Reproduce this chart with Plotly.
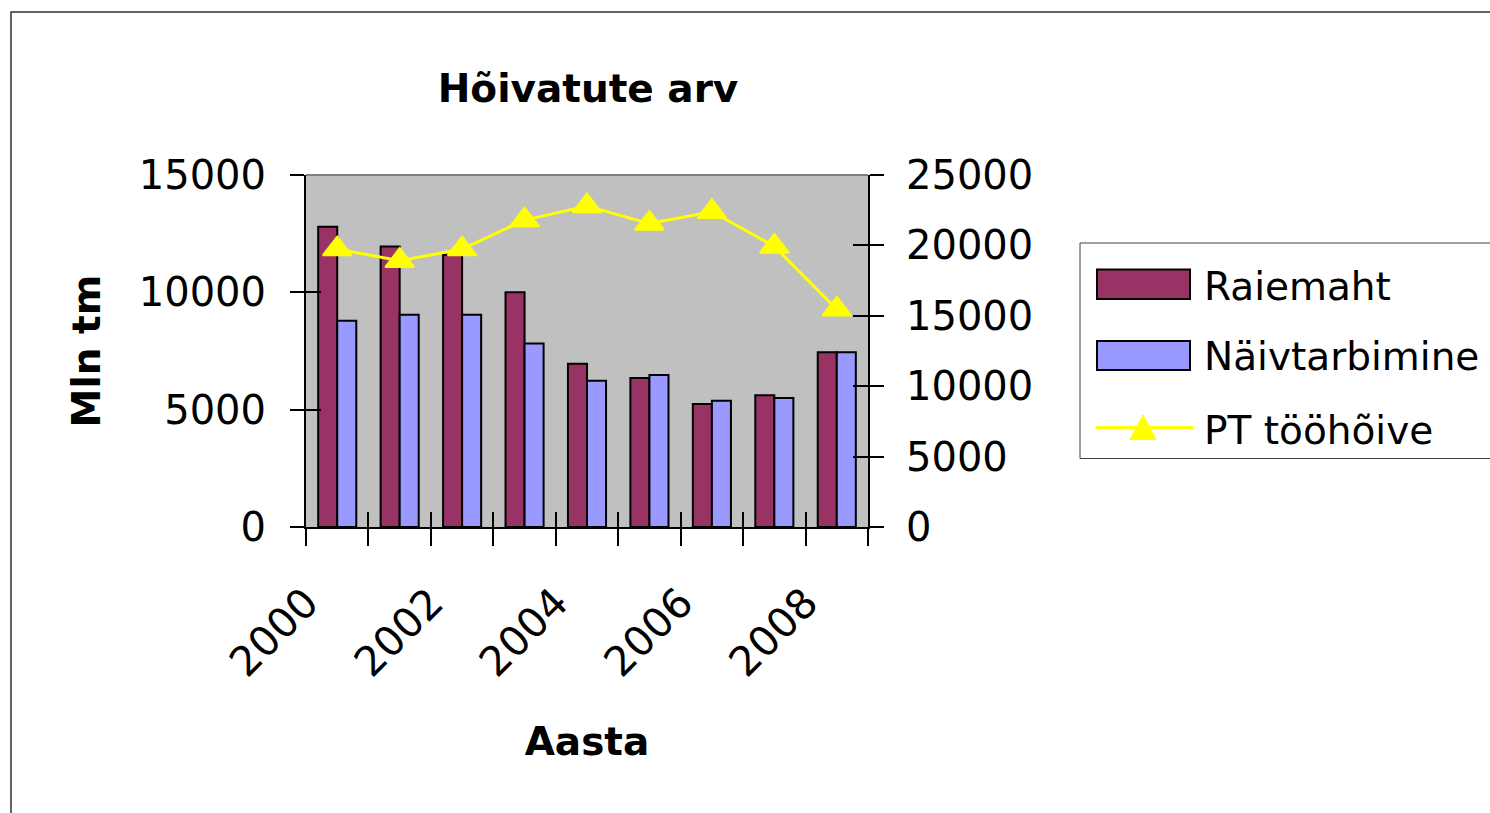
import plotly.graph_objects as go

# ---- data ----
years = [2000, 2001, 2002, 2003, 2004, 2005, 2006, 2007, 2008]
raiemaht = [12800, 11950, 11600, 10000, 6960, 6350, 5240, 5610, 7450]
naivtarbimine = [8790, 9040, 9040, 7820, 6230, 6475, 5380, 5500, 7450]
pt_toohoive = [19740, 18910, 19740, 21800, 22790, 21550, 22390, 19930, 15460]
tick_labels = [str(y) if i % 2 == 0 else "" for i, y in enumerate(years)]
series_names = ["Raiemaht", "Näivtarbimine", "PT tööhõive"]

# ---- style ----
FONT = "DejaVu Sans"
C_R = "#993366"
C_N = "#9999FF"
C_PT = "#FFFF00"
OFF = 0                      # body margin removed by post_script
W, H = 1490, 813
ML, MR, MT, MB = 306, 622, 175, 286
PW, PH = W - ML - MR, H - MT - MB

def px(x):  # screen pixel -> paper
    return (x - OFF - ML) / PW

def py(y):
    return (H - MB - (y - OFF)) / PH

cats = [str(y) for y in years]

fig = go.Figure()
fig.add_trace(go.Bar(x=cats, y=raiemaht, name=series_names[0],
                     marker=dict(color=C_R, line=dict(color="black", width=2)),
                     showlegend=False))
fig.add_trace(go.Bar(x=cats, y=naivtarbimine, name=series_names[1],
                     marker=dict(color=C_N, line=dict(color="black", width=2)),
                     showlegend=False))
fig.add_trace(go.Scatter(x=cats, y=pt_toohoive, name=series_names[2], yaxis="y2",
                         mode="lines+markers",
                         line=dict(color=C_PT, width=3),
                         marker=dict(symbol="triangle-up", size=25, color=C_PT,
                                     line=dict(color=C_PT, width=2)),
                         showlegend=False))
# empty helper traces so the overlay axes (inner halves of cross ticks) get drawn
fig.add_trace(go.Scatter(x=[], y=[], xaxis="x2", yaxis="y3", showlegend=False, hoverinfo="skip"))
fig.add_trace(go.Scatter(x=[], y=[], xaxis="x2", yaxis="y4", showlegend=False, hoverinfo="skip"))

axis_font = dict(family=FONT, size=40, color="black")

fig.update_layout(
    template="none",
    width=W, height=H,
    margin=dict(l=ML, r=MR, t=MT, b=MB, pad=0, autoexpand=False),
    paper_bgcolor="white",
    plot_bgcolor="#C0C0C0",
    barmode="group", bargap=0.39, bargroupgap=0,
    showlegend=False,
    title=dict(text="<b>Hõivatute arv</b>", font=dict(family=FONT, size=39, color="black"),
               x=px(588), xref="paper", xanchor="center",
               y=1 - (88 - OFF) / H, yref="container", yanchor="middle"),
    xaxis=dict(type="category", categoryorder="array", categoryarray=cats,
               range=[-0.5, len(cats) - 0.5],
               tickvals=cats, ticktext=tick_labels, tickangle=-45,
               ticklabelshift=-31, ticklabelstandoff=33,
               tickson="boundaries", ticks="outside", ticklen=17, tickwidth=1.5,
               tickcolor="black", tickfont=dict(family=FONT, size=41, color="black"),
               showline=True, linecolor="black", linewidth=2,
               showgrid=False, zeroline=False, automargin=False,
               title=dict(text="<b>Aasta</b>", font=dict(family=FONT, size=39, color="black"),
                          standoff=43)),
    yaxis=dict(range=[0, 15000], dtick=5000, tick0=0, tickformat="d",
               ticks="outside", ticklen=14,
               tickwidth=1.5, tickcolor="black", tickfont=axis_font,
               ticklabelstandoff=16,
               showline=True, linecolor="black", linewidth=2,
               showgrid=False, zeroline=False, automargin=False,
               title=dict(text="<b>Mln tm</b>", font=dict(family=FONT, size=39, color="black"),
                          standoff=26)),
    yaxis2=dict(range=[0, 25000], dtick=5000, tick0=0, tickformat="d",
                overlaying="y", side="right",
                ticks="outside", ticklen=14, tickwidth=1.5, tickcolor="black",
                tickfont=axis_font, ticklabelstandoff=14,
                showline=True, linecolor="black", linewidth=2,
                showgrid=False, zeroline=False, automargin=False),
    # inner halves of the cross tick marks
    xaxis2=dict(overlaying="x", range=[-0.5, len(years) - 0.5], tick0=-0.5, dtick=1,
                ticks="inside", ticklen=15, tickwidth=1.5, tickcolor="black",
                showticklabels=False, showgrid=False, zeroline=False, showline=False,
                anchor="y", side="bottom", automargin=False),
    yaxis3=dict(overlaying="y", range=[0, 15000], dtick=5000, tick0=0,
                ticks="inside", ticklen=15, tickwidth=1.5, tickcolor="black",
                showticklabels=False, showgrid=False, zeroline=False, showline=False,
                anchor="x", side="left", automargin=False),
    yaxis4=dict(overlaying="y", range=[0, 25000], dtick=5000, tick0=0,
                ticks="inside", ticklen=15, tickwidth=1.5, tickcolor="black",
                showticklabels=False, showgrid=False, zeroline=False, showline=False,
                anchor="x", side="right", automargin=False),
)

shapes = []
# outer chart frame (right/bottom edges lie outside the window)
shapes.append(dict(type="rect", xref="paper", yref="paper",
                   x0=px(11), y0=py(830), x1=px(1510), y1=py(12),
                   line=dict(color="#303030", width=1.5), fillcolor="rgba(0,0,0,0)", layer="below"))
# plot area top border
shapes.append(dict(type="line", xref="paper", yref="paper",
                   x0=0, x1=1, y0=1, y1=1, line=dict(color="#808080", width=2)))
# legend box
shapes.append(dict(type="rect", xref="paper", yref="paper",
                   x0=px(1080), y0=py(458.5), x1=px(1510), y1=py(243),
                   line=dict(color="#404040", width=1), fillcolor="white"))
# legend swatches
shapes.append(dict(type="rect", xref="paper", yref="paper",
                   x0=px(1097), y0=py(299), x1=px(1190), y1=py(269.5),
                   line=dict(color="black", width=2), fillcolor=C_R))
shapes.append(dict(type="rect", xref="paper", yref="paper",
                   x0=px(1097), y0=py(370), x1=px(1190), y1=py(341),
                   line=dict(color="black", width=2), fillcolor=C_N))
shapes.append(dict(type="line", xref="paper", yref="paper",
                   x0=px(1096), y0=py(427.5), x1=px(1193), y1=py(427.5),
                   line=dict(color=C_PT, width=3)))
tri = "M {:.5f},{:.5f} L {:.5f},{:.5f} L {:.5f},{:.5f} Z".format(
    px(1130), py(439.5), px(1156), py(439.5), px(1143), py(415))
shapes.append(dict(type="path", xref="paper", yref="paper", path=tri,
                   line=dict(color=C_PT, width=1), fillcolor=C_PT))
fig.update_layout(shapes=shapes)

legend_y = [286, 356, 430]
for name, yy in zip(series_names, legend_y):
    fig.add_annotation(text=name, xref="paper", yref="paper", x=px(1202), y=py(yy),
                       xanchor="left", yanchor="middle", showarrow=False,
                       font=dict(family=FONT, size=39, color="black"))

fig.write_html("out.html",
               config={"displayModeBar": False},
               post_script="document.body.style.margin='0';document.body.style.overflow='hidden';")
